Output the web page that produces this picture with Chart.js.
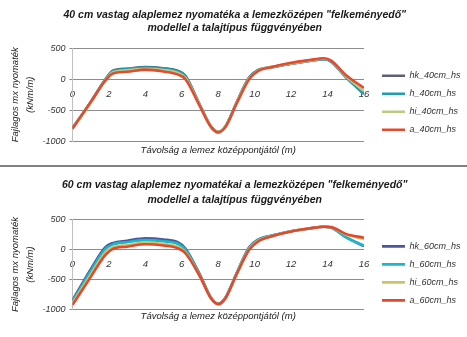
<!DOCTYPE html>
<html><head><meta charset="utf-8">
<script src="https://cdn.jsdelivr.net/npm/chart.js@4.4.0/dist/chart.umd.min.js"></script>
<style>
html,body{margin:0;padding:0;background:#fff;width:467px;height:337px;overflow:hidden;}
#w1{position:absolute;left:0;top:0;width:467px;height:165px;}
#w2{position:absolute;left:0;top:169px;width:467px;height:168px;}
#sep{position:absolute;left:0;top:165px;width:467px;height:2px;background:#7f7f7f;}
</style></head><body>
<div id="w1"><canvas id="c1"></canvas></div>
<div id="sep"></div>
<div id="w2"><canvas id="c2"></canvas></div>
<script>
const xPos = [0, 1, 1.8, 2.2, 3, 4, 5, 5.8, 6.2, 7, 7.6, 8, 8.4, 9, 9.7, 10.2, 11, 12, 13, 13.8, 14.2, 15, 16];
const xTicks = [0, 2, 4, 6, 8, 10, 12, 14, 16];
const yTicks = [500, 0, -500, -1000];

const title40 = ['40 cm vastag alaplemez nyomatéka a lemezközépen "felkeményedő"', 'modellel a talajtípus függvényében'];
const title60 = ['60 cm vastag alaplemez nyomatékai a lemezközépen "felkeményedő"', 'modellel a talajtípus függvényében'];
const xTitle = 'Távolság a lemez középpontjától (m)';
const yTitle = ['Fajlagos mx nyomaték', '(kNm/m)'];

const names40 = ['hk_40cm_hs', 'h_40cm_hs', 'hi_40cm_hs', 'a_40cm_hs'];
const hk40 = [-790, -370, -5, 135, 170, 195, 178, 135, 55, -420, -760, -850, -760, -380, 30, 150, 200, 250, 295, 325, 285, 40, -230];
const h40  = [-795, -375, -10, 130, 165, 190, 172, 128, 48, -425, -765, -855, -765, -385, 25, 145, 195, 250, 295, 325, 285, 35, -240];
const hi40 = [-800, -385, -20, 110, 145, 170, 150, 102, 25, -430, -765, -855, -765, -390, 15, 140, 200, 255, 300, 330, 295, 50, -190];
const a40  = [-800, -370, -25, 90, 120, 155, 125, 75, 0, -440, -770, -860, -770, -400, 0, 135, 200, 265, 310, 340, 300, 70, -140];

const names60 = ['hk_60cm_hs', 'h_60cm_hs', 'hi_60cm_hs', 'a_60cm_hs'];
const hk60 = [-850, -330, 40, 110, 150, 190, 170, 120, 20, -420, -800, -905, -800, -400, 40, 170, 240, 310, 355, 385, 370, 210, 60];
const h60  = [-870, -360, 10, 85, 125, 160, 140, 95, 0, -430, -805, -910, -805, -405, 30, 165, 240, 310, 355, 385, 370, 210, 65];
const hi60 = [-900, -420, -50, 40, 75, 115, 95, 45, -40, -445, -810, -912, -810, -415, 10, 150, 235, 310, 355, 385, 375, 255, 180];
const a60  = [-930, -460, -90, 10, 50, 90, 70, 20, -60, -450, -815, -915, -815, -420, 0, 140, 230, 305, 355, 385, 378, 265, 200];

const colors40 = ['#5b6170', '#1f9db4', '#bccb84', '#e64a2e'];
const colors60 = ['#4c56a0', '#18b9c9', '#c9c36a', '#e4472b'];

const F = "'Liberation Sans', Arial, sans-serif";

const legendShift = {
  id: 'legendShift',
  afterLayout(chart, args, opts) {
    const lg = chart.legend;
    if (lg) {
      lg.left += opts.dx; lg.right += opts.dx;
      lg.top += opts.dy; lg.bottom += opts.dy;
    }
  }
};

function build(id, titleLines, names, colors, series, L) {
  const datasets = series.map((vals, i) => ({
    label: names[i],
    data: vals.map((v, k) => ({x: xPos[k], y: v})),
    borderColor: colors[i],
    backgroundColor: colors[i],
    borderWidth: 2.6,
    pointRadius: 0,
    cubicInterpolationMode: 'monotone',
    fill: false,
    order: 4 - i,
    xAxisID: 'x', yAxisID: 'y'
  }));
  new Chart(document.getElementById(id), {
    type: 'line',
    data: {datasets},
    plugins: [legendShift],
    options: {
      responsive: true, maintainAspectRatio: false, animation: false,
      layout: {padding: {left: 8, right: 5.5, top: 0, bottom: L.padBottom}},
      plugins: {
        legendShift: {dx: 9, dy: L.legendDy},
        title: {display: true, text: titleLines, color: '#1a1a1a',
          font: {family: F, size: 10.5, style: 'italic', weight: 'bold', lineHeight: L.titleLH},
          padding: {top: L.titleTop, bottom: L.titleBottom}},
        legend: {position: 'right', align: 'start', fullSize: false,
          labels: {usePointStyle: true, pointStyle: 'line', pointStyleWidth: 23, color: '#333',
            font: {family: F, size: 9, style: 'italic'}, padding: 9,
            sort: (a, b) => a.datasetIndex - b.datasetIndex}},
        tooltip: {enabled: false}
      },
      scales: {
        x: {type: 'linear', min: 0, max: 16, position: {y: 0},
          afterBuildTicks: s => { s.ticks = xTicks.map(v => ({value: v})); },
          afterFit: s => { s.height = 0; },
          ticks: {color: '#333', font: {family: F, size: 9.5, style: 'italic'}, padding: 1, maxRotation: 0},
          grid: {display: false}, border: {display: true, color: '#8c8c8c'}},
        xt: {type: 'linear', min: 0, max: 16, position: 'bottom',
          ticks: {display: false}, grid: {display: false, drawTicks: false}, border: {display: false},
          title: {display: true, text: xTitle, color: '#222', font: {family: F, size: 9.5, style: 'italic', lineHeight: 1.2},
            padding: {top: L.xtTop, bottom: 0}}},
        y: {min: -1000, max: 500,
          afterBuildTicks: s => { s.ticks = yTicks.map(v => ({value: v})); },
          ticks: {color: '#333', font: {family: F, size: 9, style: 'italic'}, padding: 4, callback: v => String(v)},
          grid: {color: '#8c8c8c', tickLength: 3},
          border: {display: true, color: '#c0c0c0'},
          title: {display: true, text: yTitle, color: '#222', font: {family: F, size: 9.5, style: 'italic', lineHeight: 1.6}, padding: {top: 0, bottom: 0}}}
      }
    }
  });
}
build('c1', title40, names40, colors40, [hk40, h40, hi40, a40],
  {titleLH: 1.3, titleTop: 8, titleBottom: 13, padBottom: 9, xtTop: 3.5, legendDy: 14});
build('c2', title60, names60, colors60, [hk60, h60, hi60, a60],
  {titleLH: 1.45, titleTop: 8.4, titleBottom: 12, padBottom: 15, xtTop: 1.3, legendDy: 13});
</script></body></html>
